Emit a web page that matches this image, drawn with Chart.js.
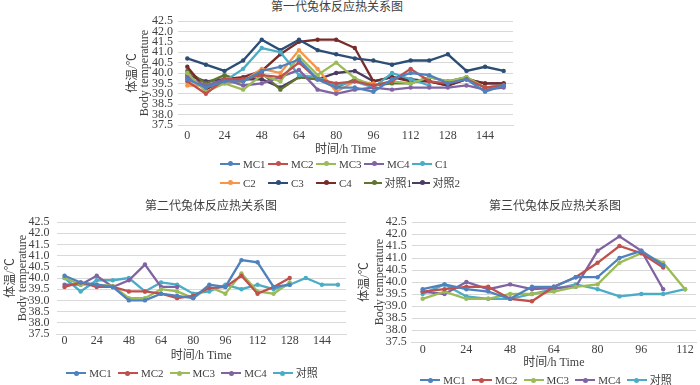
<!DOCTYPE html>
<html>
<head>
<meta charset="utf-8">
<title>兔体反应热关系图</title>
<script src="https://cdn.jsdelivr.net/npm/chart.js"></script>
<style>
  body { margin: 0; background: #fff; }
  #wrap { position: relative; width: 700px; height: 385px; overflow: hidden;
          font-family: 'Liberation Serif', 'Noto Sans CJK SC', serif; color: #404040; }
  canvas { position: absolute; }
  .ttl { position: absolute; font-size: 12px; line-height: 14px; text-align: center; white-space: nowrap; }
  .legend { position: absolute; font-size: 11px; line-height: 14px; }
  .legend.row { display: flex; justify-content: center; gap: 6px; }
  .legend.grid { display: grid; grid-template-columns: repeat(5, 48px); grid-auto-rows: 19px; align-items: center; }
  .legend .item { display: inline-flex; align-items: center; white-space: nowrap; }
  .legend .sym { position: relative; width: 20px; height: 2px; margin-right: 3px; }
  .legend .sym i { position: absolute; left: 7.5px; top: -1.5px; width: 5px; height: 5px; border-radius: 50%; background: inherit; }
</style>
</head>
<body>
<div id="wrap">
  <div class="ttl" style="left:237px; top:0px; width:200px;">第一代兔体反应热关系图</div>
  <canvas id="c1" width="425" height="160" style="left:95px; top:0px;"></canvas>
  <div id="lg1" class="legend grid" style="left:220px; top:154px;"></div>

  <div class="ttl" style="left:111px; top:199px; width:200px;">第二代兔体反应热关系图</div>
  <canvas id="c2" width="350" height="170" style="left:0px; top:195px;"></canvas>
  <div id="lg2" class="legend row" style="left:0px; top:366px; width:384px;"></div>

  <div class="ttl" style="left:455px; top:199px; width:200px;">第三代兔体反应热关系图</div>
  <canvas id="c3" width="350" height="175" style="left:350px; top:195px;"></canvas>
  <div id="lg3" class="legend row" style="left:396px; top:373px; width:300px;"></div>
</div>
<script>
// time points (h); every second one carries a tick label
const hours18 = [0, 12, 24, 36, 48, 56, 64, 72, 80, 88, 96, 104, 112, 120, 128, 136, 144, 152];
const hours13 = [0, 12, 24, 36, 48, 56, 64, 72, 80, 88, 96, 104, 112];

// generation 1
const gen1Names = ['MC1', 'MC2', 'MC3', 'MC4', 'C1', 'C2', 'C3', 'C4', '对照1', '对照2'];
const gen1MC1 = [39.7, 39.3, 39.6, 39.6, 40.1, 40.3, 40.65, 39.7, 39.3, 39.3, 39.1, 39.7, 40.0, 39.9, 39.5, 39.7, 39.1, 39.4];
const gen1MC2 = [39.6, 39.0, 39.7, 39.7, 39.9, 39.8, 40.5, 39.7, 39.5, 39.6, 39.4, 39.6, 40.2, 39.6, 39.5, 39.7, 39.3, 39.4];
const gen1MC3 = [40.0, 39.1, 39.5, 39.2, 39.9, 39.6, 40.8, 39.9, 40.5, 39.75, 39.4, 39.6, 39.5, 39.8, 39.6, 39.8, 39.3, 39.4];
const gen1MC4 = [39.8, 39.4, 39.7, 39.4, 39.5, 39.8, 40.15, 39.2, 39.0, 39.2, 39.3, 39.2, 39.3, 39.3, 39.3, 39.4, 39.2, 39.3];
const gen1C1 = [39.8, 39.3, 39.6, 40.2, 41.2, 41.0, 39.9, 39.8, 39.4, 39.6, 39.3, 40.0, 39.7, 39.4];
const gen1C2 = [39.4, 39.4, 39.5, 39.6, 40.2, 40.0, 41.1, 40.2, 39.1, 39.6, 39.5];
const gen1C3 = [40.7, 40.4, 40.1, 40.6, 41.6, 41.1, 41.6, 41.1, 40.9, 40.7, 40.6, 40.4, 40.6, 40.6, 40.9, 40.1, 40.3, 40.1];
const gen1C4 = [40.3, 39.2, 39.7, 39.8, 40.1, 40.9, 41.5, 41.6, 41.6, 41.2, 39.6, 39.8, 39.6, 39.6, 39.4, 39.7, 39.5, 39.5];
const gen1Ctrl1 = [40.1, 39.5, 39.9, 39.6, 40.0, 39.2, 39.8, 39.7, 39.3, 39.7, 39.4, 39.5, 39.5, 39.8, 39.6, 39.8, 39.3, 39.4];
const gen1Ctrl2 = [39.9, 39.6, 39.7, 39.7, 39.7, 39.3, 39.8, 39.7, 40.0, 40.1, 39.6, 39.8, 39.7, 39.6, 39.4, 39.7, 39.5, 39.5];

// generation 2
const gen2Names = ['MC1', 'MC2', 'MC3', 'MC4', '对照'];
const gen2MC1 = [40.1, 39.8, 39.7, 39.6, 39.0, 39.0, 39.3, 39.2, 39.1, 39.7, 39.6, 40.8, 40.7, 39.6, 39.7];
const gen2MC2 = [39.6, 39.8, 39.6, 39.6, 39.4, 39.4, 39.3, 39.1, 39.2, 39.55, 39.6, 40.1, 39.3, 39.6, 40.0];
const gen2MC3 = [40.0, 39.7, 39.7, 39.65, 39.1, 39.1, 39.5, 39.4, 39.1, 39.6, 39.3, 40.2, 39.4, 39.3, 39.8];
const gen2MC4 = [39.7, 39.7, 40.1, 39.6, 39.9, 40.6, 39.6, 39.6];
const gen2Ctrl = [40.0, 39.4, 39.9, 39.9, 40.0, 39.4, 39.8, 39.7, 39.3, 39.4, 39.7, 39.5, 39.7, 39.5, 39.7, 40.0, 39.7, 39.7];

// generation 3
const gen3Names = ['MC1', 'MC2', 'MC3', 'MC4', '对照'];
const gen3MC1 = [39.7, 39.9, 39.7, 39.6, 39.3, 39.8, 39.8, 40.2, 40.2, 41.0, 41.3, 40.7];
const gen3MC2 = [39.6, 39.7, 39.8, 39.8, 39.3, 39.2, 39.8, 40.2, 40.8, 41.5, 41.2, 40.6];
const gen3MC3 = [39.3, 39.6, 39.3, 39.3, 39.5, 39.5, 39.6, 39.8, 39.9, 40.8, 41.2, 40.8, 39.7];
const gen3MC4 = [39.6, 39.5, 40.0, 39.7, 39.9, 39.7, 39.75, 39.8, 41.3, 41.9, 41.3, 39.7];
const gen3Ctrl = [39.5, 39.9, 39.4, 39.3, 39.3, 39.5, 39.7, 39.9, 39.7, 39.4, 39.5, 39.5, 39.7];

const palette10 = ['#4F81BD', '#C0504D', '#9BBB59', '#8064A2', '#4BACC6', '#F79646', '#2C4D75', '#772C2A', '#5F7530', '#4D3B62'];
const palette5 = ['#4F81BD', '#C0504D', '#9BBB59', '#8064A2', '#4BACC6'];

const FONT = "'Liberation Serif', 'Noto Sans CJK SC', serif";
const TXT = '#404040';
const GRID = '#d9d9d9';

function makeChart(id, cats, names, series, colors, lay) {
  const datasets = names.map((n, i) => ({
    label: n,
    data: series[i],
    borderColor: colors[i],
    backgroundColor: colors[i],
    borderWidth: 2.3,
    pointRadius: 2.2,
    pointBorderWidth: 0,
    tension: 0,
    fill: false
  }));
  return new Chart(document.getElementById(id), {
    type: 'line',
    data: { labels: cats, datasets: datasets },
    options: {
      responsive: false,
      animation: false,
      devicePixelRatio: 1,
      layout: { padding: lay.pad },
      plugins: { legend: { display: false }, tooltip: { enabled: false } },
      scales: {
        x: {
          offset: true,
          grid: { display: false, drawTicks: false },
          border: { display: true, color: GRID },
          ticks: {
            autoSkip: false, maxRotation: 0, padding: lay.xTickPad, color: TXT,
            font: { family: FONT, size: 12 },
            callback: function (v, i) { return i % 2 === 0 ? this.getLabelForValue(v) : ''; }
          },
          title: { display: true, text: '时间/h Time', color: TXT, font: { family: FONT, size: 12 }, padding: { top: 0, bottom: lay.xTitlePad } },
          afterFit: s => { s.height = lay.xH; }
        },
        y: {
          min: 37.5, max: 42.5,
          grid: { color: GRID, drawTicks: false },
          border: { display: false },
          ticks: {
            stepSize: 0.5, autoSkip: false, padding: lay.yTickPad, color: TXT,
            font: { family: FONT, size: 12, lineHeight: 0.9 }, callback: v => v.toFixed(1)
          },
          title: {
            display: true, text: ['体温/℃', 'Body temperature'], color: TXT,
            font: { family: FONT, size: 12, lineHeight: lay.yTitleLH },
            padding: { top: lay.yTitlePad, bottom: 0 }
          },
          afterFit: s => { s.width = lay.yW; }
        }
      }
    }
  });
}

function buildLegend(elId, chart) {
  const el = document.getElementById(elId);
  chart.data.datasets.forEach(ds => {
    const item = document.createElement('span');
    item.className = 'item';
    const sym = document.createElement('span');
    sym.className = 'sym';
    sym.style.background = ds.borderColor;
    sym.appendChild(document.createElement('i'));
    item.appendChild(sym);
    item.appendChild(document.createTextNode(ds.label));
    el.appendChild(item);
  });
}

const chart1 = makeChart('c1', hours18, gen1Names,
  [gen1MC1, gen1MC2, gen1MC3, gen1MC4, gen1C1, gen1C2, gen1C3, gen1C4, gen1Ctrl1, gen1Ctrl2], palette10,
  { pad: { left: 0, right: 7, top: 21, bottom: 0 }, xH: 35, xTickPad: 4, xTitlePad: 3, yW: 83, yTickPad: 5, yTitlePad: 32, yTitleLH: 1.0 });
const chart2 = makeChart('c2', hours18, gen2Names,
  [gen2MC1, gen2MC2, gen2MC3, gen2MC4, gen2Ctrl], palette5,
  { pad: { left: 0, right: 4, top: 27, bottom: 0 }, xH: 31, xTickPad: 0, xTitlePad: 2, yW: 56.5, yTickPad: 7, yTitlePad: 5, yTitleLH: 1.0 });
const chart3 = makeChart('c3', hours13, gen3Names,
  [gen3MC1, gen3MC2, gen3MC3, gen3MC4, gen3Ctrl], palette5,
  { pad: { left: 0, right: 0.5, top: 27, bottom: 0 }, xH: 28, xTickPad: 1, xTitlePad: 0, yW: 61.7, yTickPad: 5, yTitlePad: 7, yTitleLH: 1.25 });

buildLegend('lg1', chart1);
buildLegend('lg2', chart2);
buildLegend('lg3', chart3);
</script>
</body>
</html>
